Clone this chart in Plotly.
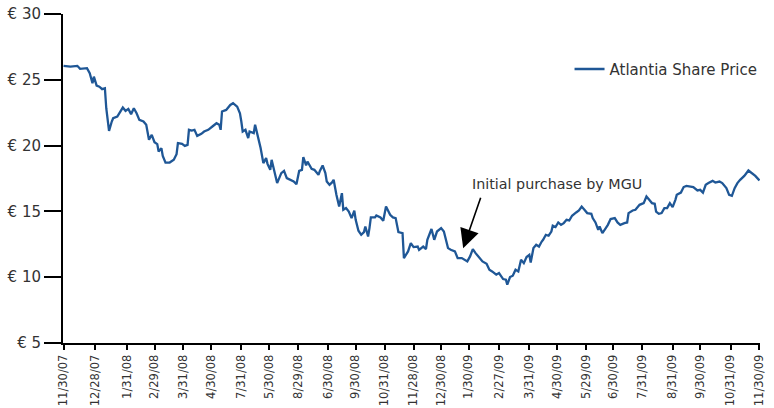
import plotly.graph_objects as go

# Trading-session index (0 = 11/30/07) and share price in euro
session = [0, 5, 10, 12, 17, 19, 21, 22, 24, 26, 28, 30, 31, 33, 35, 36, 39, 41, 43, 45,
           47, 49, 51, 53, 55, 58, 60, 62, 64, 66, 68, 69, 71, 72, 74, 77, 80, 82, 83, 86,
           88, 90, 91, 93, 95, 97, 100, 102, 105, 108, 111, 113, 114, 115, 118, 121, 123, 126, 128, 129,
           130, 132, 134, 135, 138, 139, 141, 143, 145, 147, 148, 150, 151, 153, 155, 158, 160, 162, 164, 167,
           169, 171, 173, 174, 176, 177, 180, 182, 185, 186, 188, 190, 191, 193, 195, 196, 198, 200, 202, 203,
           205, 207, 209, 211, 212, 214, 216, 218, 219, 221, 222, 223, 226, 227, 230, 232, 234, 237, 239, 241,
           243, 246, 247, 250, 252, 254, 257, 258, 261, 263, 264, 266, 267, 269, 271, 274, 276, 279, 281, 284,
           286, 289, 291, 293, 295, 297, 299, 302, 304, 307, 309, 311, 314, 316, 318, 319, 321, 322, 324, 326,
           328, 330, 332, 334, 336, 338, 339, 341, 343, 345, 347, 348, 350, 352, 354, 355, 357, 359, 361, 363,
           365, 367, 369, 371, 372, 374, 376, 378, 380, 383, 384, 386, 388, 389, 391, 393, 395, 397, 400, 402,
           404, 407, 409, 410, 413, 415, 418, 421, 423, 425, 427, 429, 430, 432, 434, 436, 438, 440, 442, 444,
           445, 448, 450, 452, 455, 457, 460, 462, 464, 466, 468, 471, 473, 476, 478, 481, 483, 485, 487, 489,
           491, 494, 497, 500, 502, 505]
price = [26.06, 26.00, 26.06, 25.83, 25.88, 25.50, 24.74, 25.24, 24.56, 24.48, 24.29, 24.36, 22.84, 21.12, 21.83, 22.08, 22.21, 22.59, 22.89, 22.64,
         22.79, 22.39, 22.84, 22.46, 21.95, 21.83, 21.58, 20.44, 20.82, 20.26, 20.11, 19.55, 19.81, 19.22, 18.71, 18.71, 18.92, 19.35, 20.19, 20.13,
         19.98, 20.06, 21.20, 21.14, 21.20, 20.74, 20.89, 21.07, 21.20, 21.45, 21.70, 21.58, 21.20, 22.59, 22.71, 23.09, 23.22, 22.96, 22.46, 21.83,
         21.07, 21.20, 20.57, 21.07, 20.95, 21.58, 20.69, 19.81, 18.67, 19.05, 18.61, 18.16, 18.92, 18.03, 17.15, 17.91, 18.08, 17.53, 17.40, 17.27,
         17.07, 18.08, 18.16, 19.12, 18.49, 18.79, 18.23, 18.16, 17.78, 18.08, 18.49, 17.91, 17.27, 17.02, 17.22, 17.40, 16.26, 15.37, 16.39, 15.12,
         15.25, 14.99, 14.49, 15.05, 14.36, 13.53, 13.22, 13.43, 13.85, 13.09, 13.73, 14.54, 14.54, 14.69, 14.54, 14.29, 15.37, 14.74, 14.54, 14.49,
         13.43, 13.35, 11.45, 11.96, 12.59, 12.29, 12.33, 12.08, 12.33, 12.14, 12.84, 13.40, 13.66, 12.84, 13.47, 13.73, 13.47, 12.21, 12.08, 11.96,
         11.45, 11.45, 11.32, 11.20, 11.58, 12.14, 11.83, 11.45, 11.20, 11.02, 10.57, 10.44, 10.19, 10.32, 10.01, 9.86, 9.81, 9.43, 10.01, 10.11,
         10.57, 10.44, 11.32, 11.07, 11.53, 11.70, 11.12, 12.21, 12.46, 12.33, 12.71, 12.84, 13.22, 13.15, 13.47, 13.91, 13.81, 14.16, 13.98, 14.11,
         14.36, 14.31, 14.67, 14.87, 14.92, 15.07, 15.37, 15.12, 14.87, 14.82, 14.49, 14.16, 13.60, 13.85, 13.35, 13.66, 13.98, 14.42, 14.49, 14.16,
         13.98, 14.11, 14.16, 14.87, 15.07, 15.12, 15.50, 15.63, 16.13, 15.88, 15.63, 15.58, 14.99, 14.82, 14.87, 15.25, 15.25, 15.63, 15.33, 15.88,
         16.26, 16.43, 16.85, 16.94, 16.89, 16.85, 16.59, 16.64, 16.43, 17.02, 17.15, 17.32, 17.19, 17.27, 17.15, 16.77, 16.26, 16.18, 16.77, 17.15,
         17.40, 17.70, 18.11, 17.86, 17.70, 17.35]

# Tick positions (session index) and the labels exactly as printed
tick_sessions = [0, 23, 46, 66, 87, 107, 129, 149, 170, 192, 212, 233, 254,
                 274, 294, 316, 338, 358, 379, 399, 420, 442, 462, 484, 505]
tick_labels = ["11/30/07", "12/28/07", "1/31/08", "2/29/08", "3/31/08", "4/30/08",
               "7/31/08", "5/30/08", "8/29/08", "6/30/08", "9/30/08", "10/31/08",
               "11/28/08", "12/30/08", "1/30/09", "2/27/09", "3/31/09", "4/30/09",
               "5/29/09", "6/30/09", "7/31/09", "8/31/09", "9/30/09", "10/31/09", "11/30/09"]
y_ticks = [5, 10, 15, 20, 25, 30]
y_labels = ["€ 5", "€ 10", "€ 15", "€ 20", "€ 25", "€ 30"]

series_name = "Atlantia Share Price"
note_text = "Initial purchase by MGU"
note_session = 290
note_price = 12.2

FONT = "DejaVu Sans"
TXT = "#333333"

fig = go.Figure()
fig.add_trace(go.Scatter(x=session, y=price, mode="lines", name=series_name,
                         line=dict(color="#1f5796", width=2.3)))

fig.update_layout(
    width=774, height=408,
    margin=dict(l=63, r=13, t=14, b=65),
    paper_bgcolor="white", plot_bgcolor="white",
    font=dict(family=FONT, color=TXT, size=14),
    showlegend=True,
    legend=dict(x=0.7257, y=0.832, xanchor="left", yanchor="middle",
                bgcolor="rgba(0,0,0,0)", font=dict(family=FONT, size=15, color=TXT)),
    xaxis=dict(range=[-0.4, 505.4], tickmode="array", tickvals=tick_sessions, ticktext=tick_labels,
               tickangle=-90, ticks="outside", ticklen=5, tickwidth=1.5, tickcolor="black",
               showline=True, linecolor="black", linewidth=2, showgrid=False, zeroline=False,
               automargin=False,
               tickfont=dict(family=FONT, size=11.5, color=TXT)),
    yaxis=dict(range=[5, 30], tickmode="array", tickvals=y_ticks, ticktext=y_labels,
               ticks="outside", ticklen=17, tickwidth=2, tickcolor="black",
               showline=True, linecolor="black", linewidth=2, showgrid=False, zeroline=False,
               automargin=False,
               tickfont=dict(family=FONT, size=15, color=TXT)),
)

fig.add_annotation(x=note_session, y=note_price, xref="x", yref="y", text="",
                   showarrow=True, arrowhead=2, arrowsize=2.4, arrowwidth=1.6,
                   arrowcolor="black", ax=18, ay=-52)
fig.add_annotation(x=294.8, y=17.1, xref="x", yref="y", text=note_text, showarrow=False,
                   xanchor="left", yanchor="middle",
                   font=dict(family=FONT, size=14.3, color=TXT))

fig.write_html("out.html", config={"displayModeBar": False},
               post_script="document.body.style.margin='0';document.body.style.overflow='hidden';")
